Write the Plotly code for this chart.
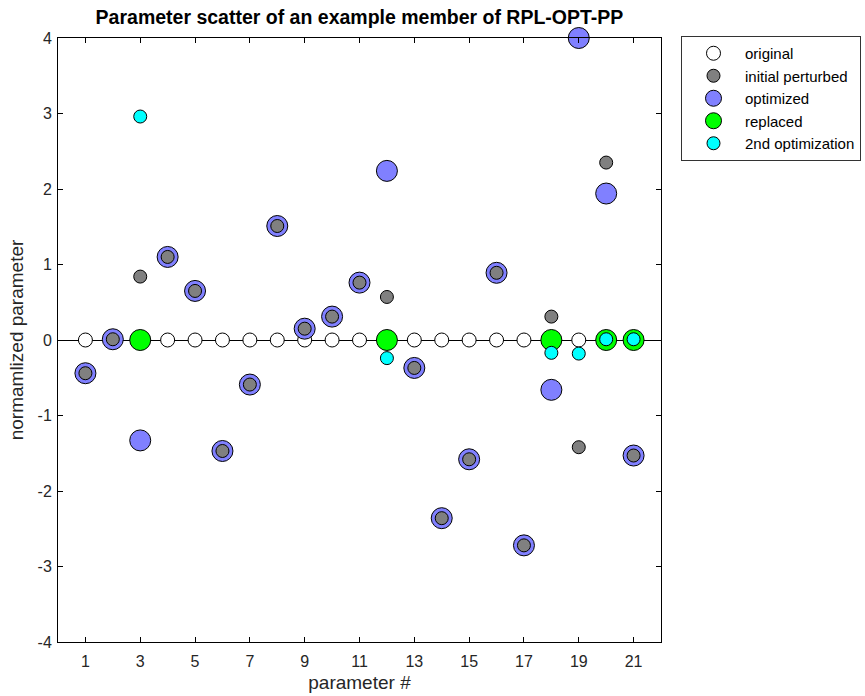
import plotly.graph_objects as go

params = list(range(1, 22))
original = [0.0] * 21
initial_perturbed = [-0.44, 0.01, 0.84, 1.10, 0.65, -1.47, -0.59, 1.51, 0.15, 0.31,
                     0.76, 0.57, -0.37, -2.36, -1.58, 0.89, -2.72, 0.31, -1.42, 2.35, -1.53]
optimized = [-0.44, 0.01, -1.33, 1.10, 0.65, -1.47, -0.59, 1.51, 0.15, 0.31,
             0.76, 2.24, -0.37, -2.36, -1.58, 0.89, -2.72, -0.66, 4.0, 1.94, -1.53]
replaced_params = [3, 12, 18, 20, 21]
replaced = [0.0, 0.0, 0.0, 0.0, 0.0]
second_params = [3, 12, 18, 19, 20, 21]
second_opt = [2.96, -0.24, -0.17, -0.18, 0.01, 0.01]

x_ticks = list(range(1, 22, 2))
y_ticks = list(range(-4, 5))
y_tick_labels = [str(v) for v in y_ticks]

FONT = "Liberation Sans, Arial, Helvetica, sans-serif"

fig = go.Figure()

def add(name, x, y, color, size, rank):
    fig.add_trace(go.Scatter(
        x=x, y=y, mode="markers", name=name, legendrank=rank, cliponaxis=False,
        marker=dict(color=color, size=size, line=dict(color="black", width=1)),
    ))

# draw order: original, optimized, initial perturbed, replaced, 2nd optimization
add("original", params, original, "white", 14, 1)
add("optimized", params, optimized, "#8080ff", 21, 3)
add("initial perturbed", params, initial_perturbed, "#808080", 13, 2)
add("replaced", replaced_params, replaced, "#00ff00", 21, 4)
add("2nd optimization", second_params, second_opt, "#00ffff", 13, 5)

axis_common = dict(
    showline=True, linecolor="black", linewidth=1, mirror="ticks",
    ticks="inside", ticklen=5, tickcolor="black", showgrid=False, automargin=False,
    tickfont=dict(family=FONT, size=16, color="#262626"),
)

fig.update_layout(
    width=865, height=696,
    margin=dict(l=58, r=204, t=38, b=54),
    paper_bgcolor="white", plot_bgcolor="white",
    font=dict(family=FONT, color="#262626"),
    title=dict(text="<b>Parameter scatter of an example member of RPL-OPT-PP</b>",
               x=0.5, xref="paper", xanchor="center", y=1 - 17 / 696, yanchor="middle",
               font=dict(family=FONT, size=19.5, color="black")),
    xaxis=dict(range=[0, 22], tickvals=x_ticks, zeroline=False, ticklabelstandoff=5,
               title=dict(text="parameter #", font=dict(family=FONT, size=19, color="#262626"), standoff=6),
               **axis_common),
    yaxis=dict(range=[-4, 4], tickvals=y_ticks, ticktext=y_tick_labels,
               zeroline=True, zerolinecolor="black", zerolinewidth=1, ticklabelstandoff=2,
               title=dict(text="normamlized parameter", font=dict(family=FONT, size=19, color="#262626"), standoff=8),
               **axis_common),
    legend=dict(xref="container", yref="container", x=681 / 865, y=1 - 36 / 696,
                xanchor="left", yanchor="top",
                bordercolor="#333333", borderwidth=1, bgcolor="white",
                font=dict(family=FONT, size=15, color="black"),
                tracegroupgap=0, itemwidth=53),
    showlegend=True,
)

fig.write_html("out.html")
